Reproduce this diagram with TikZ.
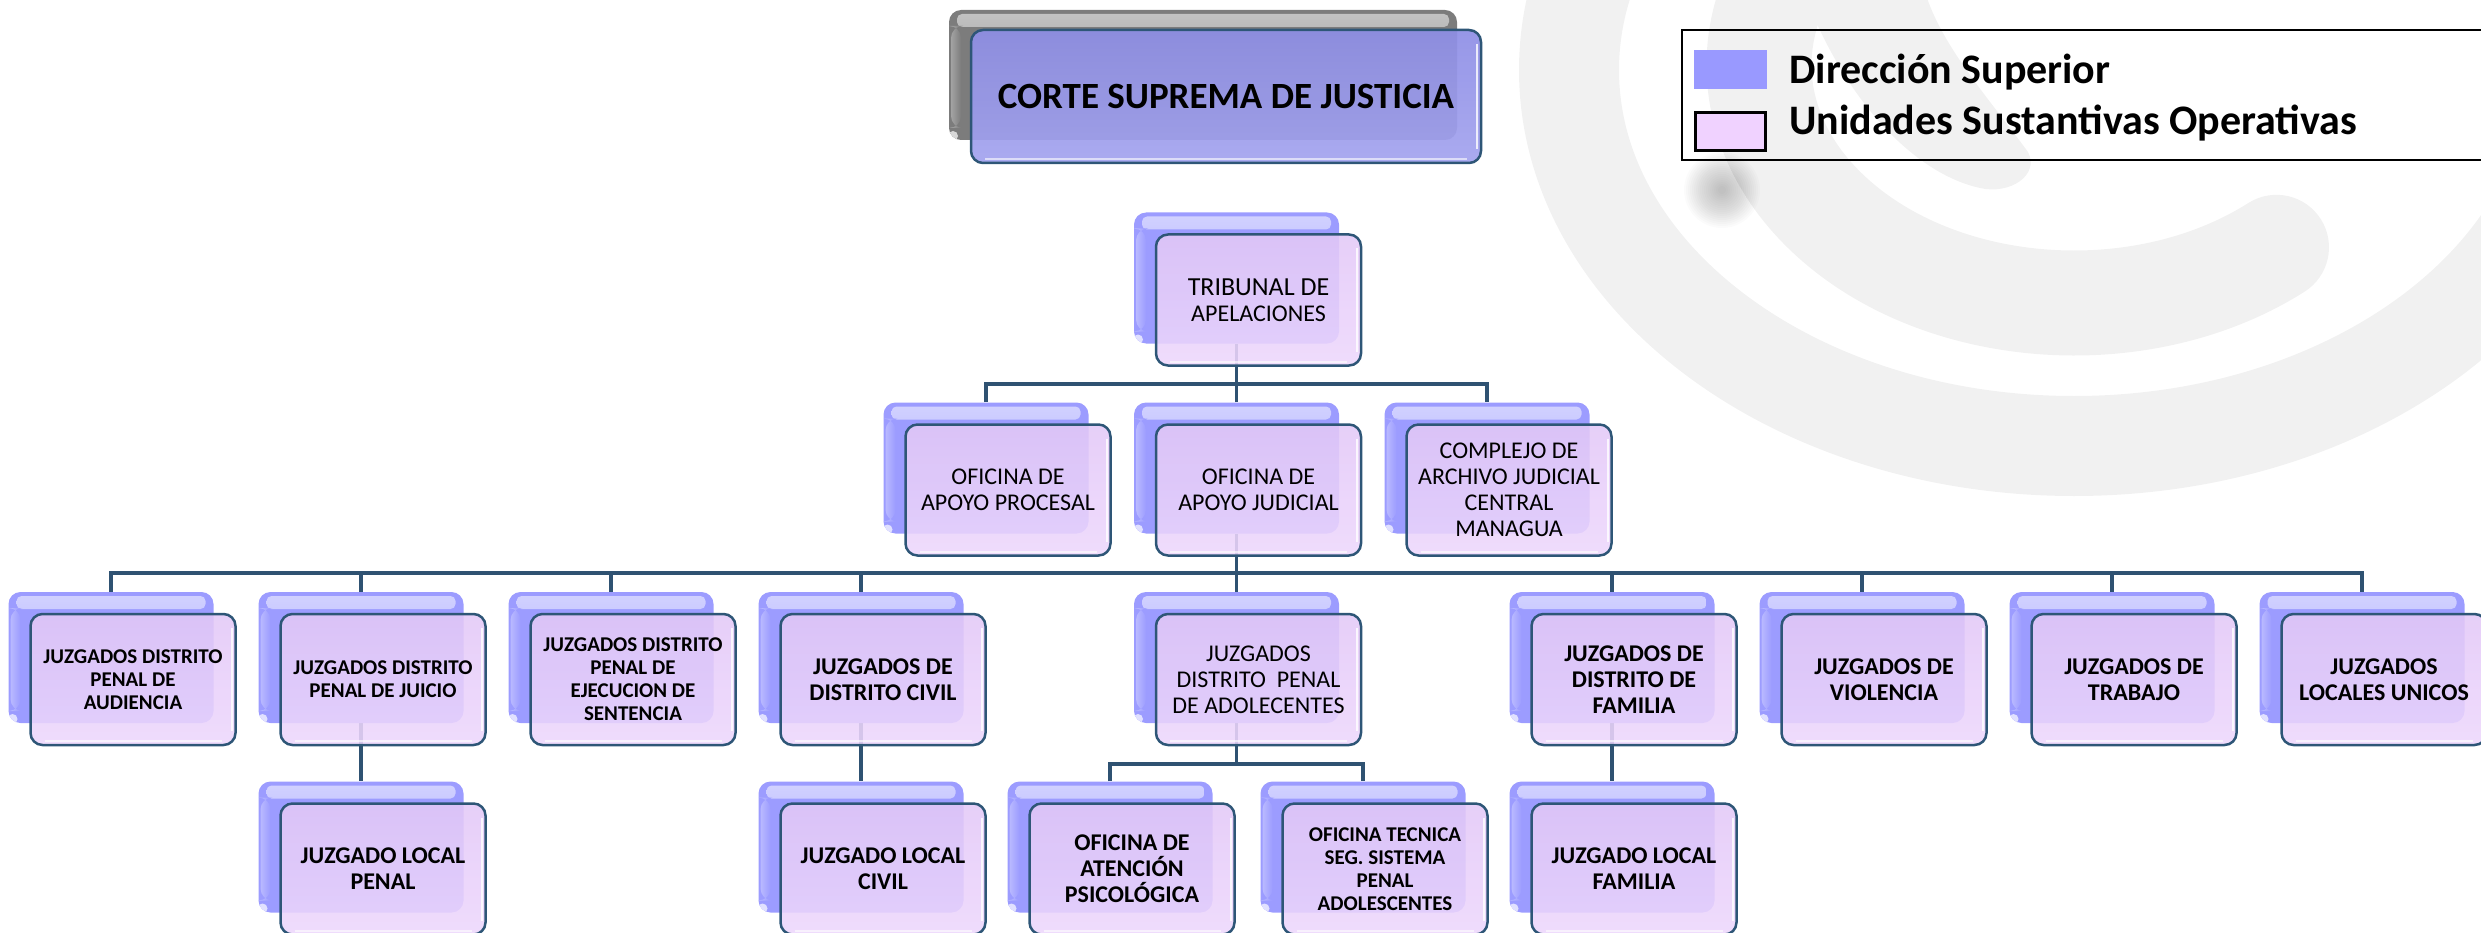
\documentclass[tikz,border=0pt]{standalone}
\usepackage{fontspec}
\setmainfont{Carlito}
\usetikzlibrary{calc,positioning,backgrounds}

\definecolor{backblue}{HTML}{9C9CFF}
\definecolor{backgray}{HTML}{7C7C7C}
\definecolor{frontpink}{HTML}{E3C8F7}
\definecolor{frontpinklow}{HTML}{EDD7FC}
\definecolor{frontblue}{HTML}{9393EC}
\definecolor{boxedge}{HTML}{2E5677}
\definecolor{linkblue}{HTML}{2F5272}
\definecolor{wmark}{HTML}{F1F1F1}
\definecolor{legblue}{HTML}{9999FF}
\definecolor{legpink}{HTML}{F0D2FF}

\newcommand\fntPlain{\fontsize{24}{26}\selectfont}
\newcommand\fntBold{\fontsize{24}{26}\selectfont\bfseries}
\newcommand\fntSmall{\fontsize{21}{23}\selectfont\bfseries}

% one unit of the chart: back card and front card
\newcommand\OrgUnit[5][]{%
  \node[backcard] (#2b) at (#3,#4) {}; % back card
  \node[frontcard,#1] (#2) at ($(#2b)+(22pt,-22pt)$) {#5}; % front card, text
}

\begin{document}
\begin{tikzpicture}[x=1pt,y=-1pt]

%% some definitions

\def\W{205pt} % card width
\def\H{131pt} % card height
\def\rowA{278} % tribunal
\def\rowB{468} % oficinas
\def\rowC{657.5} % juzgados de distrito
\def\rowD{847} % juzgados locales
\def\mid{1236.5} % axis of the chart

\tikzset{card/.style={minimum width=\W, minimum height=\H, inner sep=0pt, rounded corners=12pt}}
\tikzset{gloss/.style={path picture={
    \shade[top color=white!55!#1, bottom color=#1, rounded corners=5pt]
      ($(path picture bounding box.north west)+(8pt,-4pt)$) rectangle
      ($(path picture bounding box.north east)+(-8pt,-17pt)$);
    \shade[left color=white!30!#1, right color=#1]
      ($(path picture bounding box.north west)+(2pt,-16pt)$) rectangle
      ($(path picture bounding box.south west)+(12pt,12pt)$);
    \fill[white!70!#1] ($(path picture bounding box.south west)+(4pt,4pt)$) circle (5pt);}}}
\tikzset{shine/.style={path picture={
    \draw[white, line width=2pt, opacity=.8]
      ($(path picture bounding box.north east)+(-4pt,-14pt)$) --
      ($(path picture bounding box.south east)+(-4pt,14pt)$);
    \draw[white, line width=2pt, opacity=.6]
      ($(path picture bounding box.south west)+(14pt,4pt)$) --
      ($(path picture bounding box.south east)+(-14pt,4pt)$);}}}
\tikzset{backcard/.style={card, fill=backblue, gloss=backblue}}
\tikzset{frontcard/.style={card, draw=boxedge, line width=2.5pt, top color=frontpink,
    bottom color=frontpinklow, shine, fill opacity=.88, text opacity=1, align=center, font=\fntPlain}}
\tikzset{txtbold/.style={font=\fntBold}, txtsmall/.style={font=\fntSmall}}
\tikzset{link/.style={draw=linkblue, line width=3.5pt}}
\tikzset{legtext/.style={inner sep=0pt, anchor=base west, font=\fontsize{42}{48}\selectfont\bfseries}}

\useasboundingbox (0,0) rectangle (2481,933);

%% top of the chart
\node[card, minimum width=508pt, minimum height=130pt, fill=backgray, gloss=backgray] (csjb) at (1203,75) {};
\node[card, minimum width=510pt, minimum height=133pt, draw=boxedge, line width=2.5pt,
      top color=frontblue!97!black, bottom color=frontblue!85!white, shine, fill opacity=.93, text opacity=1,
      font=\fontsize{37}{40}\selectfont\bfseries] (csj) at (1226,96.5) {CORTE SUPREMA DE JUSTICIA};

%% legend
\draw[line width=2pt] (2490,30) -- (1682,30) -- (1682,160) -- (2490,160);
\node[fill=legblue, minimum width=73pt, minimum height=39pt, inner sep=0pt] (lgblue) at (1730.5,69.5) {};
\node[fill=legpink, draw=black, line width=3pt, minimum width=70pt, minimum height=38pt, inner sep=0pt] (lgpink) at (1730.5,132) {};
\node[legtext] (lgdir) at (1789,84) {Dirección Superior};
\node[legtext] (lgops) at (1789,135) {Unidades Sustantivas Operativas};

%% tribunal and oficinas
\OrgUnit{trib}{\mid}{\rowA}{\fontsize{26}{28}\selectfont TRIBUNAL DE\\APELACIONES}
\OrgUnit{proc}{986}{\rowB}{OFICINA DE\\APOYO PROCESAL}
\OrgUnit{jud}{\mid}{\rowB}{OFICINA DE\\APOYO JUDICIAL}
\OrgUnit{compl}{1487}{\rowB}{COMPLEJO DE\\ARCHIVO JUDICIAL\\CENTRAL\\MANAGUA}

%% juzgados de distrito
\OrgUnit[txtsmall]{jpa}{111}{\rowC}{JUZGADOS DISTRITO\\PENAL DE\\AUDIENCIA}
\OrgUnit[txtsmall]{jpj}{361}{\rowC}{JUZGADOS DISTRITO\\PENAL DE JUICIO}
\OrgUnit[txtsmall]{jpe}{611}{\rowC}{JUZGADOS DISTRITO\\PENAL DE\\EJECUCION DE\\SENTENCIA}
\OrgUnit[txtbold]{jdc}{861}{\rowC}{JUZGADOS DE\\DISTRITO CIVIL}
\OrgUnit{jad}{\mid}{\rowC}{JUZGADOS\\DISTRITO~ PENAL\\DE ADOLECENTES}
\OrgUnit[txtbold]{jdf}{1612}{\rowC}{JUZGADOS DE\\DISTRITO DE\\FAMILIA}
\OrgUnit[txtbold]{jvi}{1862}{\rowC}{JUZGADOS DE\\VIOLENCIA}
\OrgUnit[txtbold]{jtr}{2112}{\rowC}{JUZGADOS DE\\TRABAJO}
\OrgUnit[txtbold]{jlu}{2362}{\rowC}{JUZGADOS\\LOCALES UNICOS}

%% juzgados locales y oficinas
\OrgUnit[txtbold]{lpe}{361}{\rowD}{JUZGADO LOCAL\\PENAL}
\OrgUnit[txtbold]{lci}{861}{\rowD}{JUZGADO LOCAL\\CIVIL}
\OrgUnit[txtbold]{ops}{1110}{\rowD}{OFICINA DE\\ATENCIÓN\\PSICOLÓGICA}
\OrgUnit[txtsmall]{ots}{1363}{\rowD}{OFICINA TECNICA\\SEG. SISTEMA\\PENAL\\ADOLESCENTES}
\OrgUnit[txtbold]{lfa}{1612}{\rowD}{JUZGADO LOCAL\\FAMILIA}

\begin{scope}[on background layer]
%watermark
\clip (0,0) rectangle (2481,933);
\draw[wmark, line width=100pt] (2074,70) ellipse [x radius=505, y radius=376];
\draw[wmark, line width=105pt, line cap=round] (2074,65) ++(50:315 and 238)
  arc[start angle=50, end angle=225, x radius=315, y radius=238];
\fill[wmark] (1806,-2) .. controls (1850,110) and (1920,175) .. (1980,188)
  .. controls (2010,195) and (2040,175) .. (2028,152)
  .. controls (1990,100) and (1945,50) .. (1927,-2) -- cycle;
\foreach \r in {38,36,...,4}
  \fill[black, opacity=.016] (1722,190) circle (\r pt);

%connectors
\coordinate (barA) at (0,384);
\coordinate (barB) at (0,573);
\coordinate (barC) at (0,764);
\draw[link] (tribb.south) -- (tribb.south |- barA);
\draw[link] (procb.north) |- (complb.north |- barA) -- (complb.north);
\draw[link] (judb.north) -- (judb.north |- barA);
\draw[link] (judb.south) -- (judb.south |- barB);
\draw[link] (jpab.north) |- (jlub.north |- barB) -- (jlub.north);
\foreach \u in {jpjb,jpeb,jdcb,jadb,jdfb,jvib,jtrb}
  \draw[link] (\u.north) -- (\u.north |- barB);
\draw[link] (jpjb.south) -- (lpeb.north);
\draw[link] (jdcb.south) -- (lcib.north);
\draw[link] (jdfb.south) -- (lfab.north);
\draw[link] (jadb.south) -- (jadb.south |- barC);
\draw[link] (opsb.north) |- (otsb.north |- barC) -- (otsb.north);
\end{scope}

\end{tikzpicture}
\end{document}
